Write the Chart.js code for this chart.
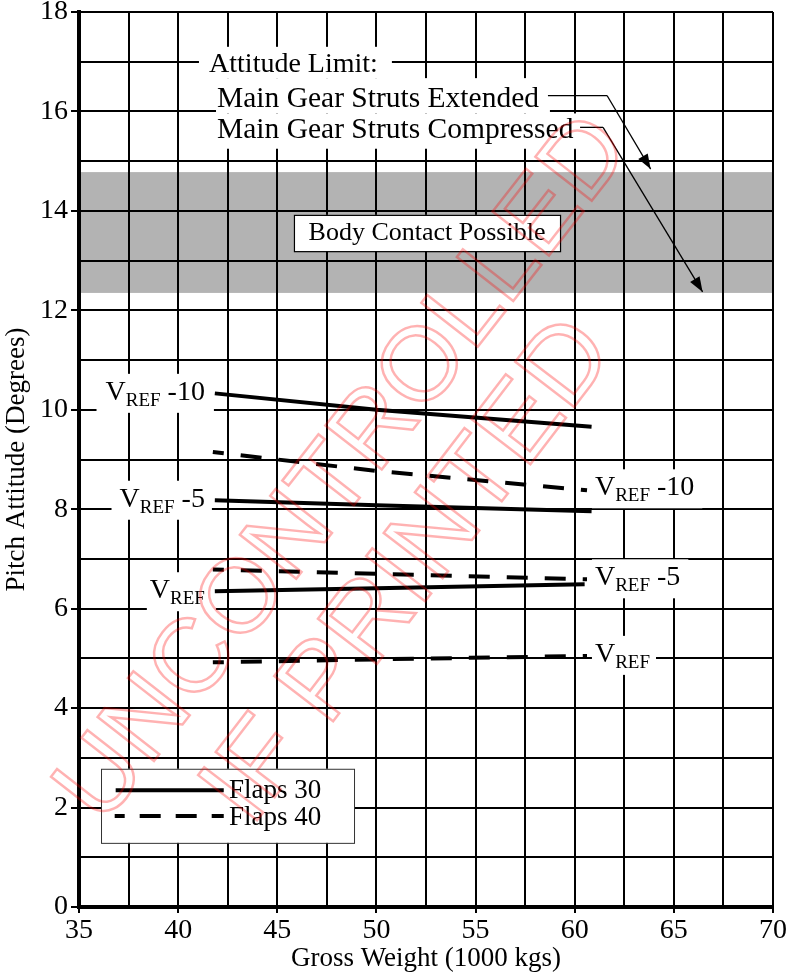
<!DOCTYPE html>
<html><head><meta charset="utf-8">
<script src="https://cdn.jsdelivr.net/npm/chart.js@4/dist/chart.umd.min.js"></script>
<style>html,body{margin:0;padding:0;background:#fff;}#wrap{width:792px;height:977px;}</style>
</head><body><div id="wrap"><canvas id="c" width="792" height="977"></canvas></div>
<script>
// ---- data ----
const xTickLabels = [35, 40, 45, 50, 55, 60, 65, 70];
const yTickLabels = [0, 2, 4, 6, 8, 10, 12, 14, 16, 18];
const seriesNames = ['Flaps 30', 'Flaps 40'];
const speedNames = ['-10', '-5', ''];
const flaps30Weights = [41.85, 50, 60.85];
const flaps30RefWeights = [41.85, 50, 60.5];
const flaps40Weights = [41.75, 50, 60.62];
const flaps30Vref10 = [10.33, 10.00, 9.66];
const flaps30Vref5 = [8.18, 8.08, 7.96];
const flaps30Vref = [6.35, 6.41, 6.49];
const flaps40Vref10 = [9.15, 8.77, 8.38];
const flaps40Vref5 = [6.79, 6.70, 6.59];
const flaps40Vref = [4.92, 4.98, 5.05];
const bodyContactBand = [12.35, 14.78];

const SERIF = '"Liberation Serif", "Times New Roman", serif';
const SANS = '"Liberation Sans", Arial, sans-serif';
function pts(xs, ys) { return xs.map((x, i) => ({x: x, y: ys[i]})); }

function solid(data) {
  return {label: seriesNames[0], data: data, borderColor: '#000', borderWidth: 4, pointRadius: 0, tension: 0, fill: false};
}
function dashed(data) {
  return {label: seriesNames[1], data: data, borderColor: '#000', borderWidth: 4, borderDash: [21, 17], borderDashOffset: 10, pointRadius: 0, tension: 0, fill: false};
}

function vrefLabel(ctx, x, baseline, suffix, align, padL, padR) {
  ctx.font = '28px ' + SERIF; const wV = ctx.measureText('V').width;
  ctx.font = '19px ' + SERIF; const wR = ctx.measureText('REF').width;
  ctx.font = '28px ' + SERIF; const wS = suffix ? ctx.measureText(' ' + suffix).width : 0;
  const total = wV + wR + wS;
  const left = align === 'right' ? x - total : x;
  ctx.fillStyle = '#fff';
  ctx.fillRect(left - padL, baseline - 26, total + padL + padR, 39);
  ctx.fillStyle = '#000';
  ctx.textAlign = 'left'; ctx.textBaseline = 'alphabetic';
  ctx.font = '28px ' + SERIF; ctx.fillText('V', left, baseline);
  ctx.font = '19px ' + SERIF; ctx.fillText('REF', left + wV, baseline + 6);
  if (suffix) { ctx.font = '28px ' + SERIF; ctx.fillText(' ' + suffix, left + wV + wR, baseline); }
}

function arrow(ctx, x0, y0, x1, y1) {
  ctx.beginPath(); ctx.moveTo(x0, y0); ctx.lineTo(x1, y1); ctx.stroke();
  const a = Math.atan2(y1 - y0, x1 - x0), L = 15, W = 5.5;
  ctx.beginPath();
  ctx.moveTo(x1, y1);
  ctx.lineTo(x1 - L * Math.cos(a) + W * Math.sin(a), y1 - L * Math.sin(a) - W * Math.cos(a));
  ctx.lineTo(x1 - L * Math.cos(a) - W * Math.sin(a), y1 - L * Math.sin(a) + W * Math.cos(a));
  ctx.closePath(); ctx.fill();
}

const bandPlugin = {
  id: 'band',
  beforeDraw(chart) {
    const {ctx, chartArea: ca, scales: {y}} = chart;
    const t = y.getPixelForValue(bodyContactBand[1]), b = y.getPixelForValue(bodyContactBand[0]);
    ctx.save(); ctx.fillStyle = '#b3b3b3';
    ctx.fillRect(ca.left, t, ca.right - ca.left, b - t);
    ctx.restore();
  }
};

const annotPlugin = {
  id: 'annot',
  beforeDatasetsDraw(chart) {
    const {ctx, scales: {x, y}} = chart;
    const X = v => x.getPixelForValue(v), Y = v => y.getPixelForValue(v);
    ctx.save();
    ctx.fillStyle = '#fff';
    ctx.fillRect(X(41.05), Y(17.30), X(50.78) - X(41.05), Y(16.67) - Y(17.30));
    ctx.fillRect(X(41.91), Y(16.67), X(58.75) - X(41.91), Y(15.96) - Y(16.67));
    ctx.fillRect(X(41.91), Y(15.96), X(60.27) - X(41.91), Y(15.25) - Y(15.96));
    ctx.fillStyle = '#000'; ctx.textAlign = 'left'; ctx.textBaseline = 'alphabetic';
    ctx.font = '28px ' + SERIF;
    ctx.fillText('Attitude Limit:', X(41.56), Y(16.79));
    ctx.font = '29.5px ' + SERIF;
    ctx.fillText('Main Gear Struts Extended', X(41.96), Y(16.08));
    ctx.fillText('Main Gear Struts Compressed', X(41.96), Y(15.47));
    ctx.strokeStyle = '#000'; ctx.fillStyle = '#000'; ctx.lineWidth = 1.3;
    ctx.beginPath(); ctx.moveTo(X(58.65), Y(16.32)); ctx.lineTo(X(61.63), Y(16.32)); ctx.stroke();
    arrow(ctx, X(61.63), Y(16.32), X(63.83), Y(14.84));
    ctx.beginPath(); ctx.moveTo(X(60.27), Y(15.68)); ctx.lineTo(X(61.43), Y(15.68)); ctx.stroke();
    arrow(ctx, X(61.43), Y(15.68), X(66.45), Y(12.37));
    ctx.fillStyle = '#fff'; ctx.lineWidth = 1.2;
    const bx = X(45.84), by = Y(13.92), bw = X(59.26) - bx, bh = Y(13.19) - by;
    ctx.fillRect(bx, by, bw, bh); ctx.strokeRect(bx + 0.5, by + 0.5, bw, bh);
    ctx.fillStyle = '#000'; ctx.textAlign = 'center'; ctx.font = '26px ' + SERIF;
    ctx.fillText('Body Contact Possible', X(52.55), Y(13.42));
    vrefLabel(ctx, X(41.35), Y(10.2), speedNames[0], 'right', 9, 9);
    vrefLabel(ctx, X(41.35), Y(8.05), speedNames[1], 'right', 8, 7);
    vrefLabel(ctx, X(41.35), Y(6.21), speedNames[2], 'right', 3, 11);
    vrefLabel(ctx, X(61.02), Y(8.28), speedNames[0], 'left', 3, 8);
    vrefLabel(ctx, X(61.02), Y(6.47), speedNames[1], 'left', 3, 8);
    vrefLabel(ctx, X(61.02), Y(4.93), speedNames[2], 'left', 3, 6);
    ctx.restore();
  }
};

const legendPlugin = {
  id: 'customLegend',
  afterDatasetsDraw(chart) {
    const {ctx, scales: {x, y}} = chart;
    const X = v => x.getPixelForValue(v), Y = v => y.getPixelForValue(v);
    ctx.save();
    const lx = X(36.11), ly = Y(2.78), lw = X(48.87) - lx, lh = Y(1.29) - ly;
    ctx.fillStyle = '#fff'; ctx.fillRect(lx, ly, lw, lh);
    ctx.strokeStyle = '#333'; ctx.lineWidth = 1; ctx.strokeRect(lx + 0.5, ly + 0.5, lw, lh);
    ctx.strokeStyle = '#000'; ctx.lineWidth = 4;
    ctx.beginPath(); ctx.moveTo(X(36.85), Y(2.35)); ctx.lineTo(X(42.3), Y(2.35)); ctx.stroke();
    ctx.setLineDash([21, 15]); ctx.lineDashOffset = 11;
    ctx.beginPath(); ctx.moveTo(X(36.8), Y(1.83)); ctx.lineTo(X(42.3), Y(1.83)); ctx.stroke();
    ctx.setLineDash([]);
    ctx.fillStyle = '#000'; ctx.font = '27px ' + SERIF; ctx.textAlign = 'left'; ctx.textBaseline = 'alphabetic';
    ctx.fillText(seriesNames[0], X(42.56), Y(2.19));
    ctx.fillText(seriesNames[1], X(42.56), Y(1.65));
    ctx.restore();
  }
};

const watermarkPlugin = {
  id: 'watermark',
  afterDraw(chart) {
    const ctx = chart.ctx;
    const lines = [['UNCONTROLLED', 345, 470, 104, -52], ['IF PRINTED', 410, 572, 108, -52.5]];
    lines.forEach(([t, cx, cy, size, ang]) => {
      ctx.save();
      ctx.strokeStyle = 'rgba(255,0,0,0.3)'; ctx.lineWidth = 2.5;
      ctx.font = size + 'px ' + SANS; ctx.textAlign = 'center'; ctx.textBaseline = 'middle';
      ctx.translate(cx, cy); ctx.rotate(ang * Math.PI / 180);
      ctx.strokeText(t, 0, 0);
      ctx.restore();
    });
  }
};

new Chart(document.getElementById('c'), {
  type: 'line',
  data: {
    datasets: [
      solid(pts(flaps30Weights, flaps30Vref10)),
      solid(pts(flaps30Weights, flaps30Vref5)),
      solid(pts(flaps30RefWeights, flaps30Vref)),
      dashed(pts(flaps40Weights, flaps40Vref10)),
      dashed(pts(flaps40Weights, flaps40Vref5)),
      dashed(pts(flaps40Weights, flaps40Vref))
    ]
  },
  options: {
    responsive: false, animation: false, devicePixelRatio: 1,
    layout: {padding: {top: 12, right: 19, bottom: 0, left: 0}},
    plugins: {legend: {display: false}, tooltip: {enabled: false}},
    scales: {
      x: {
        type: 'linear', min: xTickLabels[0], max: xTickLabels[xTickLabels.length - 1],
        ticks: {stepSize: 2.5, autoSkip: false, maxRotation: 0, color: '#000', padding: 1,
          font: {family: SERIF, size: 28},
          callback: v => (xTickLabels.includes(v) ? String(v) : '')},
        grid: {color: '#000', lineWidth: 2, tickLength: 6, tickWidth: 2,
          tickColor: c => (c.tick && xTickLabels.includes(c.tick.value) ? '#000' : 'rgba(0,0,0,0)')},
        border: {color: '#000', width: 4},
        title: {display: true, text: 'Gross Weight (1000 kgs)', color: '#000', font: {family: SERIF, size: 27}, padding: {top: 0, bottom: 2}},
        afterFit: s => { s.height = 70; s.paddingLeft = 0; s.paddingRight = 0; }
      },
      y: {
        type: 'linear', min: yTickLabels[0], max: yTickLabels[yTickLabels.length - 1],
        ticks: {stepSize: 1, autoSkip: false, color: '#000', padding: 3,
          font: {family: SERIF, size: 28},
          callback: v => (yTickLabels.includes(v) ? String(v) : '')},
        grid: {color: '#000', lineWidth: 2, tickLength: 8, tickWidth: 2,
          tickColor: c => (c.tick && yTickLabels.includes(c.tick.value) ? '#000' : 'rgba(0,0,0,0)')},
        border: {color: '#000', width: 4},
        title: {display: true, text: 'Pitch Attitude (Degrees)', color: '#000', font: {family: SERIF, size: 27}, padding: {top: 1, bottom: 0}},
        afterFit: s => { s.width = 79; s.paddingTop = 0; s.paddingBottom = 0; }
      }
    }
  },
  plugins: [bandPlugin, annotPlugin, legendPlugin, watermarkPlugin]
});
</script></body></html>
